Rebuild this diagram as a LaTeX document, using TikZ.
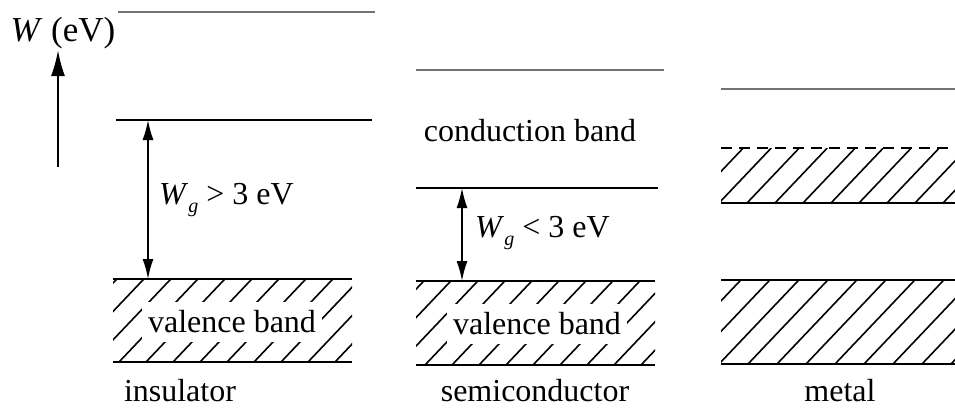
\documentclass[tikz,border=0pt]{standalone}
\usepackage{fontspec}
\setmainfont{Liberation Serif}
\usetikzlibrary{arrows.meta}
\newcommand\hatchband[6]{% x1,y1,x2,y2,spacing,offset
  \begin{scope}
    \clip (#1,#2) rectangle (#3,#4);
    \foreach \k in {0,...,16} {
      \draw[hatchline] ({#1+#6+#5*\k},#4) -- ++({(#4-#2)*0.95},{-(#4-#2)});
    }
  \end{scope}}
\newcommand\Wg{\textit{W}\raisebox{-8pt}{\fontsize{20}{20}\selectfont\textit{g}}}
\begin{document}
\begin{tikzpicture}[x=1pt,y=-1pt,
  level/.style={line width=2pt},
  toplevel/.style={line width=2pt, draw=black!55},
  hatchline/.style={line width=1.6pt},
  gaparrow/.style={line width=1.6pt, {Latex[length=20pt,width=11pt]}-{Latex[length=20pt,width=11pt]}},
  axisarrow/.style={line width=2.2pt, -{Latex[length=26pt,width=14pt]}},
  lbl/.style={font=\fontsize{32}{34}\selectfont, inner sep=1pt},
  whitelbl/.style={lbl, fill=white, inner xsep=6pt, minimum height=40pt}]
\useasboundingbox (0,0) rectangle (955,410);

% axis
\node[lbl, font=\fontsize{35}{36}\selectfont] (axislabel) at (63,33) {\textit{W} (eV)};
\coordinate (axisfoot) at (58,167);
\coordinate (axistip) at (58,50);
\draw[axisarrow] (axisfoot) -- (axistip);

% ---------- insulator ----------
\draw[toplevel] (118,12) -- (375,12);
\draw[level] (116,120) -- (372,120);
\hatchband{113}{279}{352}{362}{27}{-75}
\node[whitelbl] (ivb) at (232,322) {valence band};
\draw[level] (113,279) -- (352,279);
\draw[level] (113,362) -- (352,362);
\coordinate (igtop) at (148,120);
\coordinate (igbot) at (148,279);
\draw[gaparrow] (igtop) -- (igbot);
\node[lbl, anchor=west] (igap) at (158,200) {\Wg\ > 3 eV};
\node[lbl] (ins) at (180,391) {insulator};

% ---------- semiconductor ----------
\draw[toplevel] (416,70) -- (664,70);
\node[lbl] (scb) at (530,131) {conduction band};
\draw[level] (416,188) -- (658,188);
\hatchband{416}{281}{655}{365}{27}{-72}
\node[whitelbl] (svb) at (537,324) {valence band};
\draw[level] (416,281) -- (655,281);
\draw[level] (416,365) -- (655,365);
\coordinate (sgtop) at (462,188);
\coordinate (sgbot) at (462,281);
\draw[gaparrow] (sgtop) -- (sgbot);
\node[lbl, anchor=west] (sgap) at (474,233) {\Wg\ < 3 eV};
\node[lbl] (semi) at (535,391) {semiconductor};

% ---------- metal ----------
\draw[toplevel] (721,89) -- (955,89);
\hatchband{721}{148}{955}{203}{28}{-30}
\draw[level, dash pattern=on 11pt off 7pt] (721,148) -- (955,148);
\draw[level] (721,203) -- (955,203);
\hatchband{721}{280}{955}{364}{29}{-60}
\draw[level] (721,280) -- (955,280);
\draw[level] (721,364) -- (955,364);
\node[lbl] (met) at (840,391) {metal};
\end{tikzpicture}
\end{document}
